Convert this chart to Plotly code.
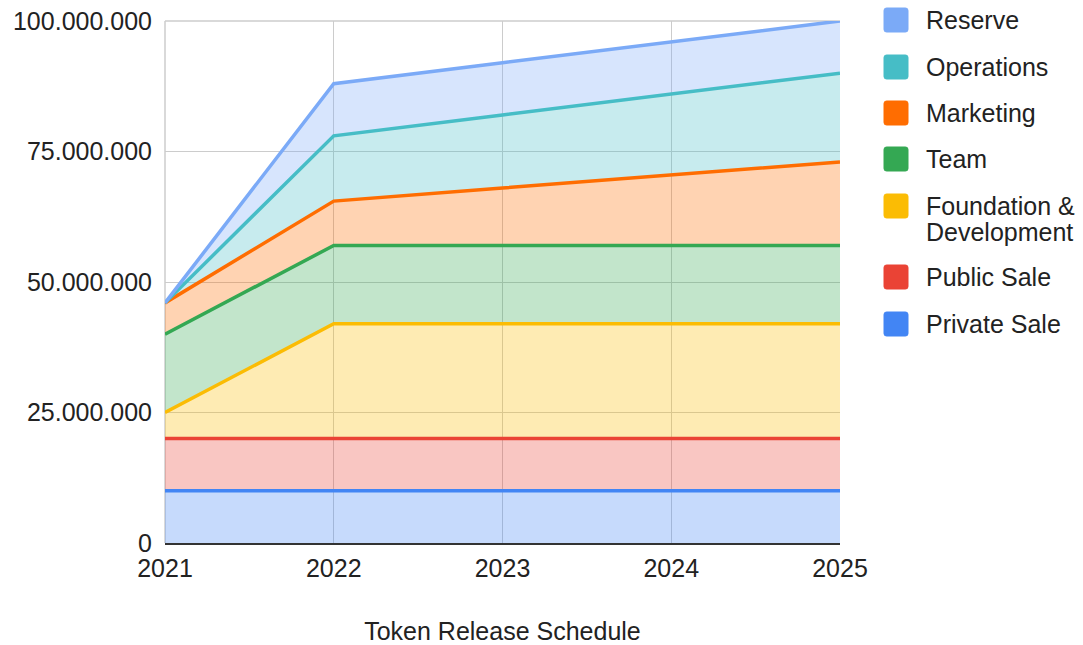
import plotly.graph_objects as go

# Release years
years = [2021, 2022, 2023, 2024, 2025]

# Tokens released per allocation (stacked, bottom to top)
private_sale = [10_000_000, 10_000_000, 10_000_000, 10_000_000, 10_000_000]
public_sale = [10_000_000, 10_000_000, 10_000_000, 10_000_000, 10_000_000]
foundation_dev = [5_000_000, 22_000_000, 22_000_000, 22_000_000, 22_000_000]
team = [15_000_000, 15_000_000, 15_000_000, 15_000_000, 15_000_000]
marketing = [6_000_000, 8_500_000, 11_000_000, 13_500_000, 16_000_000]
operations = [0, 12_500_000, 14_000_000, 15_500_000, 17_000_000]
reserve = [0, 10_000_000, 10_000_000, 10_000_000, 10_000_000]

names = ["Private Sale", "Public Sale", "Foundation & Development", "Team",
         "Marketing", "Operations", "Reserve"]
series = [private_sale, public_sale, foundation_dev, team, marketing, operations, reserve]
colors = ["#4285F4", "#EA4335", "#FBBC04", "#34A853", "#FF6D01", "#46BDC6", "#7BAAF7"]

y_ticks = [0, 25_000_000, 50_000_000, 75_000_000, 100_000_000]


def rgba(hex_color, a):
    h = hex_color.lstrip("#")
    r, g, b = int(h[0:2], 16), int(h[2:4], 16), int(h[4:6], 16)
    return f"rgba({r},{g},{b},{a})"


FONT = "Liberation Sans, Arial, sans-serif"
W, H = 1083, 645
L, R, T, B = 165, 243, 21, 102
GRID = "#cccccc"

fig = go.Figure()
for name, vals, col in zip(names, series, colors):
    fig.add_trace(go.Scatter(
        x=years, y=vals, name=name, mode="lines",
        stackgroup="tokens",
        line=dict(color=col, width=3.5),
        fillcolor=rgba(col, 0.3),
        showlegend=False,
    ))

# Custom legend on the right, top entry is the top of the stack
plot_w = W - L - R
plot_h = H - T - B


def px_x(px):
    return (px - L) / plot_w


def px_y(py):
    return (H - B - py) / plot_h


def rounded_rect(x0, y0, x1, y1, r):
    # SVG path of a rounded rectangle in pixel space, converted to paper coords
    pts = [
        f"M {px_x(x0 + r)},{px_y(y0)}",
        f"L {px_x(x1 - r)},{px_y(y0)}",
        f"Q {px_x(x1)},{px_y(y0)} {px_x(x1)},{px_y(y0 + r)}",
        f"L {px_x(x1)},{px_y(y1 - r)}",
        f"Q {px_x(x1)},{px_y(y1)} {px_x(x1 - r)},{px_y(y1)}",
        f"L {px_x(x0 + r)},{px_y(y1)}",
        f"Q {px_x(x0)},{px_y(y1)} {px_x(x0)},{px_y(y1 - r)}",
        f"L {px_x(x0)},{px_y(y0 + r)}",
        f"Q {px_x(x0)},{px_y(y0)} {px_x(x0 + r)},{px_y(y0)}",
        "Z",
    ]
    return " ".join(pts)


shapes = [
    # top and left frame lines of the plot area
    dict(type="line", xref="paper", yref="paper", x0=0, x1=1, y0=1, y1=1,
         line=dict(color=GRID, width=1.5), layer="below"),
    dict(type="line", xref="paper", yref="paper", x0=0, x1=0, y0=0, y1=1,
         line=dict(color=GRID, width=1.5), layer="below"),
]
annotations = []
legend_rows = [20, 67, 113, 159, 206, 277, 324]
legend_labels = {"Foundation & Development": ["Foundation &", "Development"]}
for row_y, name, col in zip(legend_rows, names[::-1], colors[::-1]):
    shapes.append(dict(
        type="path", xref="paper", yref="paper",
        path=rounded_rect(884, row_y - 12, 908, row_y + 12, 2.5),
        fillcolor=col, line=dict(color=col, width=1), layer="above",
    ))
    lines = legend_labels.get(name, [name])
    for i, line in enumerate(lines):
        annotations.append(dict(
            xref="paper", yref="paper", x=px_x(924), y=px_y(row_y + 26 * i),
            xanchor="left", yanchor="middle", showarrow=False, text=line,
            font=dict(family=FONT, size=25, color="#222222"),
        ))

fig.update_layout(
    width=W, height=H,
    margin=dict(l=L, r=R, t=T, b=B, pad=0),
    paper_bgcolor="white", plot_bgcolor="white",
    separators=",.",
    font=dict(family=FONT, size=25, color="#222222"),
    shapes=shapes,
    annotations=annotations,
    xaxis=dict(
        range=[years[0], years[-1]],
        tickvals=years, ticktext=[str(y) for y in years],
        showgrid=True, gridcolor=GRID, gridwidth=1,
        showline=True, linecolor="#333333", linewidth=2,
        zeroline=False, ticks="", ticklabelstandoff=2,
        tickfont=dict(family=FONT, size=25, color="#222222"),
        title=dict(text="Token Release Schedule", standoff=42,
                   font=dict(family=FONT, size=25, color="#222222")),
        automargin=False, fixedrange=True,
    ),
    yaxis=dict(
        range=[0, 100_000_000],
        tickvals=y_ticks, tickformat=",d",
        showgrid=True, gridcolor=GRID, gridwidth=1,
        zeroline=False, showline=False, ticks="", ticklabelstandoff=12,
        tickfont=dict(family=FONT, size=25, color="#222222"),
        automargin=False, fixedrange=True,
    ),
)

fig.write_html("out.html")
